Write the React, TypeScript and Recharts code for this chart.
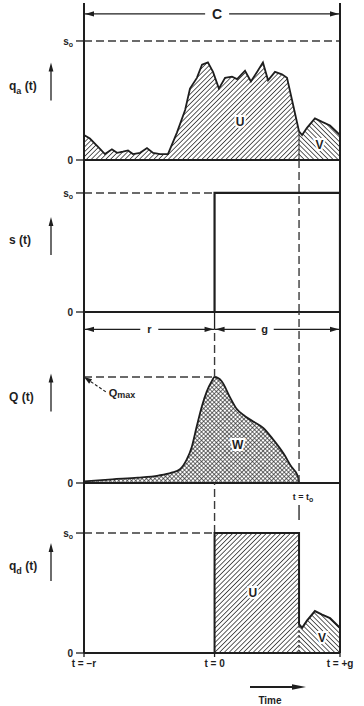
import React from "react";
import {
  Area,
  ComposedChart,
  Line,
  ReferenceDot,
  ReferenceLine,
  XAxis,
  YAxis,
} from "recharts";

// time in seconds, t = 0 at start of green; cycle C = r + g
const R = 51;
const G = 49;
const T_O = 33;
const S_O = 1; // saturation flow (normalised)
const Q_MAX = 10; // veh

// q_a(t) arrivals, fraction of s_o
const arrivalTimes = [
  -51, -48.7, -45.5, -42.8, -40.1, -38.1, -35.8, -33.8, -31.9, -29.1, -26.4, -24, -21.3,
  -18.2, -14.7, -11.5, -9.6, -6.9, -4.9, -2.6, -0.6, 1.7, 4.1, 6.8, 8.8, 11.9, 14.2, 16.6,
  18.9, 20.9, 23.6, 26.3, 28.3, 30.3, 33, 34.2, 36.1, 39.2, 42, 45.1, 49,
];
const arrivalRates = [
  0.21, 0.18, 0.11, 0.05, 0.09, 0.06, 0.07, 0.08, 0.05, 0.06, 0.1, 0.06, 0.05, 0.05, 0.23,
  0.42, 0.6, 0.69, 0.8, 0.82, 0.74, 0.6, 0.69, 0.7, 0.68, 0.75, 0.66, 0.74, 0.82, 0.67, 0.74,
  0.72, 0.69, 0.5, 0.24, 0.21, 0.27, 0.35, 0.32, 0.29, 0.21,
];

// s(t) signal service rate
const signalTimes = [-51, 0, 49];
const signalRates = [0, 1, 0];

// Q(t) queue, vehicles
const queueTimes = [
  -51, -40, -30, -22, -16.8, -13.5, -10.9, -8.9, -7, -5, -3.1, -1.1, 0, 2.8, 6, 8.6, 11.9,
  15.1, 19, 22.9, 26.9, 30.1, 32.5, 33,
];
const queueVeh = [
  0.15, 0.35, 0.5, 0.7, 0.97, 1.3, 2.2, 3.4, 5.3, 7.2, 8.6, 9.6, 10, 9.6, 8.1, 7, 6.3, 5.8,
  5.2, 4.1, 2.8, 1.5, 0.66, 0,
];

const INK = "#1e1e1e";
const DASH = "#3a3a3a";
const FONT = "'Liberation Sans', Arial, sans-serif";
const MARGIN_X = { left: 0, right: 24 };

const arrivals = arrivalTimes.map((t, i) => ({ t, v: arrivalRates[i] }));
const uArrivals = arrivals.filter((d) => d.t <= T_O);
const vArrivals = arrivals.filter((d) => d.t >= T_O);
const qaAtTo = vArrivals[0].v;
const signal = signalTimes.map((t, i) => ({ t, v: signalRates[i] * S_O }));
const queue = queueTimes.map((t, i) => ({ t, v: queueVeh[i] }));
const departures = [
  { t: -R, v: 0 },
  { t: 0, v: 0 },
  { t: 0, v: S_O },
  { t: T_O, v: S_O },
  ...vArrivals,
];
const uDepartures = [
  { t: 0, v: S_O },
  { t: T_O, v: S_O },
];

function Patterns({ id }: { id: string }) {
  return (
    <defs>
      <pattern id={`u-${id}`} width="3.4" height="3.4" patternUnits="userSpaceOnUse" patternTransform="rotate(45)">
        <line x1="0" y1="0" x2="0" y2="3.4" stroke="#262626" strokeWidth="1.5" />
      </pattern>
      <pattern id={`v-${id}`} width="3.4" height="3.4" patternUnits="userSpaceOnUse" patternTransform="rotate(-45)">
        <line x1="0" y1="0" x2="0" y2="3.4" stroke="#262626" strokeWidth="1.5" />
      </pattern>
      <pattern id={`w-${id}`} width="3" height="3" patternUnits="userSpaceOnUse" patternTransform="rotate(45)">
        <line x1="0" y1="0" x2="0" y2="3" stroke="#222" strokeWidth="1.3" />
        <line x1="0" y1="0" x2="3" y2="0" stroke="#222" strokeWidth="1.3" />
      </pattern>
    </defs>
  );
}

function arrowHead(x: number, y: number, dx: number, dy: number, len = 7, half = 2.6) {
  const px = -dy;
  const py = dx;
  const bx = x - dx * len;
  const by = y - dy * len;
  return `${x},${y} ${bx + px * half},${by + py * half} ${bx - px * half},${by - py * half}`;
}

// horizontal dimension line |<-- label -->|
function dimShape(text: string, at = 0.5, gap = 20, size = 12) {
  return (p: any) => {
    const { x1, y1, x2 } = p;
    const mx = x1 + (x2 - x1) * at;
    return (
      <g>
        <line x1={x1} y1={y1} x2={mx - gap / 2} y2={y1} stroke={INK} strokeWidth={1.3} />
        <line x1={mx + gap / 2} y1={y1} x2={x2} y2={y1} stroke={INK} strokeWidth={1.3} />
        <polygon points={arrowHead(x1 + 1, y1, -1, 0, 9, 2.6)} fill={INK} />
        <polygon points={arrowHead(x2 - 1, y1, 1, 0, 9, 2.6)} fill={INK} />
        <text x={mx} y={y1} dy="0.36em" textAnchor="middle" fontFamily={FONT} fontWeight="bold" fontSize={size} fill={INK}>
          {text}
        </text>
      </g>
    );
  };
}

const areaLabel = (text: string, size = 12) => (p: any) => (
  <text
    x={p.cx}
    y={p.cy}
    dy="0.36em"
    textAnchor="middle"
    fontFamily={FONT}
    fontWeight="bold"
    fontSize={size}
    fill={INK}
    stroke="#fff"
    strokeWidth={4}
    paintOrder="stroke"
  >
    {text}
  </text>
);

function yTick(labels: Record<number, [string, string?]>) {
  return (p: any) => {
    const [m, s] = labels[p.payload.value] ?? [String(p.payload.value)];
    return (
      <text x={p.x} y={p.y} dy="0.36em" textAnchor="end" fontFamily={FONT} fontWeight="bold" fontSize={10} fill={INK}>
        {m}
        {s && (
          <tspan fontSize={7} dy={2}>
            {s}
          </tspan>
        )}
      </text>
    );
  };
}

const xTickText: Record<number, string> = { [-R]: "t = −r", 0: "t = 0", [G]: "t = +g" };

function XTick(p: any) {
  return (
    <text x={p.x} y={p.y} dy="0.71em" textAnchor="middle" fontFamily={FONT} fontWeight="bold" fontSize={10} fill={INK}>
      {xTickText[p.payload.value]}
    </text>
  );
}

function sideLabel(main: string, sub: string, dy = 0) {
  return (p: any) => {
    const vb = p.viewBox;
    const cy = vb.y + vb.height / 2 + dy;
    return (
      <g>
        <text x={9} y={cy + 4} dy="0.36em" fontFamily={FONT} fontWeight="bold" fontSize={12} fill={INK}>
          {main}
          {sub && (
            <tspan fontSize={9} dy={4}>
              {sub}
            </tspan>
          )}
          <tspan dy={sub ? -4 : 0}>{"  (t)"}</tspan>
        </text>
        <line x1={51} y1={cy + 19} x2={51} y2={cy - 12} stroke={INK} strokeWidth={1.3} />
        <polygon points={arrowHead(51, cy - 19, 0, -1, 9, 2.4)} fill={INK} />
      </g>
    );
  };
}

function TimeLabel(p: any) {
  const vb = p.viewBox;
  const x0 = vb.x + 166;
  const y = vb.y + 34;
  return (
    <g>
      <line x1={x0} y1={y} x2={x0 + 46} y2={y} stroke={INK} strokeWidth={2} />
      <polygon points={arrowHead(x0 + 56, y, 1, 0, 14, 2.8)} fill={INK} />
      <text x={vb.x + 186} y={vb.y + 47} dy="0.36em" textAnchor="middle" fontFamily={FONT} fontWeight="bold" fontSize={10} fill={INK}>
        Time
      </text>
    </g>
  );
}

function qmaxShape(p: any) {
  const { x1, y1, x2, y2 } = p;
  const len = Math.hypot(x2 - x1, y2 - y1);
  const ux = (x2 - x1) / len;
  const uy = (y2 - y1) / len;
  return (
    <g>
      <line x1={x1} y1={y1} x2={x2 - ux * 6} y2={y2 - uy * 6} stroke={INK} strokeWidth={1.1} strokeDasharray="3 2" />
      <polygon points={arrowHead(x2, y2, ux, uy, 8, 2.6)} fill={INK} />
      <text x={x1 + 3} y={y1 + 1} dy="0.36em" fontFamily={FONT} fontWeight="bold" fontSize={11} fill={INK}>
        Q
        <tspan fontSize={9} dy={1}>
          max
        </tspan>
      </text>
    </g>
  );
}

function toLabel(p: any) {
  return (
    <text x={p.cx + 4} y={p.cy} dy="0.36em" textAnchor="middle" fontFamily={FONT} fontWeight="bold" fontSize={9} fill={INK}>
      t = t
      <tspan fontSize={7} dy={2}>
        o
      </tspan>
    </text>
  );
}

const frame = { stroke: INK, strokeWidth: 2 };
const dashed = { stroke: DASH, strokeWidth: 1.4, strokeDasharray: "8 4" };
const soLabels: Record<number, [string, string?]> = { 0: ["0"], [S_O]: ["s", "o"] };
const yAxisCommon = {
  type: "number" as const,
  width: 84,
  allowDataOverflow: true,
  interval: 0 as const,
  axisLine: frame,
  tickLine: { stroke: INK, strokeWidth: 1.3 },
  tickSize: 8,
  tickMargin: 3,
  tick: yTick(soLabels),
};

function Panel({ top, height, children }: { top: number; height: number; children: React.ReactNode }) {
  return <div style={{ position: "absolute", left: 0, top, width: 364, height }}>{children}</div>;
}

export default function App() {
  return (
    <div style={{ position: "absolute", left: 0, top: 0, width: 364, height: 706, background: "#fff" }}>
      {/* q_a(t) arrivals */}
      <Panel top={0} height={166}>
        <ComposedChart width={364} height={166} margin={{ top: 3, bottom: 6, ...MARGIN_X }}>
          <Patterns id="p1" />
          <XAxis type="number" dataKey="t" domain={[-R, G]} allowDataOverflow hide />
          <YAxis {...yAxisCommon} domain={[0, 1.319]} ticks={[0, S_O]} label={{ content: sideLabel("q", "a", 0) }} />
          <ReferenceLine segment={[{ x: -R, y: S_O }, { x: G, y: S_O }]} {...dashed} />
          <Area data={uArrivals} dataKey="v" type="linear" stroke={INK} strokeWidth={1.8} fill="url(#u-p1)" fillOpacity={1} isAnimationActive={false} />
          <Area data={vArrivals} dataKey="v" type="linear" stroke={INK} strokeWidth={1.8} fill="url(#v-p1)" fillOpacity={1} isAnimationActive={false} />
          <ReferenceLine segment={[{ x: T_O, y: 0 }, { x: T_O, y: qaAtTo }]} stroke={INK} strokeWidth={1} />
          <ReferenceLine y={0} {...frame} />
          <ReferenceLine x={G} {...frame} />
          <ReferenceLine segment={[{ x: -R, y: 1.227 }, { x: G, y: 1.227 }]} shape={dimShape("C", 0.52, 24, 14)} />
          <ReferenceDot x={10} y={0.32} r={0} shape={areaLabel("U")} />
          <ReferenceDot x={41} y={0.13} r={0} shape={areaLabel("V")} />
        </ComposedChart>
      </Panel>

      {/* s(t) signal */}
      <Panel top={154} height={164}>
        <ComposedChart width={364} height={164} margin={{ top: 6, bottom: 6, ...MARGIN_X }}>
          <XAxis type="number" dataKey="t" domain={[-R, G]} allowDataOverflow hide />
          <YAxis {...yAxisCommon} domain={[0, 1.277]} ticks={[0, S_O]} label={{ content: sideLabel("s", "", 0) }} />
          <ReferenceLine segment={[{ x: -R, y: S_O }, { x: 0, y: S_O }]} {...dashed} />
          <ReferenceLine x={T_O} {...dashed} />
          <Line data={signal} dataKey="v" type="stepAfter" stroke={INK} strokeWidth={2.2} dot={false} isAnimationActive={false} />
          <ReferenceLine y={0} {...frame} />
          <ReferenceLine x={G} {...frame} />
        </ComposedChart>
      </Panel>

      {/* Q(t) queue */}
      <Panel top={306} height={183}>
        <ComposedChart width={364} height={183} margin={{ top: 6, bottom: 6, ...MARGIN_X }}>
          <Patterns id="p3" />
          <XAxis type="number" dataKey="t" domain={[-R, G]} allowDataOverflow hide />
          <YAxis {...yAxisCommon} domain={[0, 16.13]} ticks={[0]} label={{ content: sideLabel("Q", "", -5) }} />
          <ReferenceLine segment={[{ x: -R, y: Q_MAX }, { x: 0, y: Q_MAX }]} {...dashed} />
          <ReferenceLine segment={[{ x: 0, y: Q_MAX }, { x: 0, y: 14.5 }]} {...dashed} />
          <ReferenceLine segment={[{ x: 0, y: 14.5 }, { x: 0, y: 16.13 }]} stroke={INK} strokeWidth={1.3} />
          <ReferenceLine segment={[{ x: T_O, y: 0 }, { x: T_O, y: 16.13 }]} {...dashed} />
          <Area data={queue} dataKey="v" type="monotone" stroke={INK} strokeWidth={1.8} fill="url(#w-p3)" fillOpacity={1} isAnimationActive={false} />
          <ReferenceLine y={0} {...frame} />
          <ReferenceLine x={G} {...frame} />
          <ReferenceLine segment={[{ x: -R, y: 14.5 }, { x: 0, y: 14.5 }]} shape={dimShape("r", 0.5, 18, 11)} />
          <ReferenceLine segment={[{ x: 0, y: 14.5 }, { x: G, y: 14.5 }]} shape={dimShape("g", 0.4, 18, 11)} />
          <ReferenceLine segment={[{ x: -42.5, y: 8.6 }, { x: -R, y: Q_MAX }]} shape={qmaxShape} />
          <ReferenceDot x={9} y={3.6} r={0} shape={areaLabel("W")} />
        </ComposedChart>
      </Panel>

      {/* q_d(t) departures */}
      <Panel top={477} height={229}>
        <ComposedChart width={364} height={229} margin={{ top: 6, bottom: 0, ...MARGIN_X }}>
          <Patterns id="p4" />
          <XAxis
            type="number"
            dataKey="t"
            domain={[-R, G]}
            ticks={[-R, 0, G]}
            interval={0}
            allowDataOverflow
            height={53}
            axisLine={frame}
            tickLine={{ stroke: INK, strokeWidth: 1.3 }}
            tickSize={4}
            tickMargin={3}
            tick={<XTick />}
            label={{ content: TimeLabel }}
          />
          <YAxis {...yAxisCommon} domain={[0, 1.417]} ticks={[0, S_O]} label={{ content: sideLabel("q", "d", -6) }} />
          <ReferenceLine segment={[{ x: -R, y: S_O }, { x: 0, y: S_O }]} {...dashed} />
          <ReferenceLine segment={[{ x: 0, y: S_O }, { x: 0, y: 1.417 }]} {...dashed} />
          <ReferenceLine segment={[{ x: T_O, y: 1.108 }, { x: T_O, y: 1.233 }]} stroke={INK} strokeWidth={1.3} />
          <ReferenceDot x={T_O} y={1.3} r={0} shape={toLabel} />
          <Area data={uDepartures} dataKey="v" type="linear" stroke="none" fill="url(#u-p4)" fillOpacity={1} isAnimationActive={false} />
          <Area data={vArrivals} dataKey="v" type="linear" stroke="none" fill="url(#v-p4)" fillOpacity={1} isAnimationActive={false} />
          <ReferenceLine segment={[{ x: T_O, y: 0 }, { x: T_O, y: qaAtTo }]} stroke={INK} strokeWidth={1} strokeDasharray="3 2" />
          <Line data={departures} dataKey="v" type="linear" stroke={INK} strokeWidth={2} dot={false} isAnimationActive={false} />
          <ReferenceLine x={G} {...frame} />
          <ReferenceDot x={15} y={0.5} r={0} shape={areaLabel("U")} />
          <ReferenceDot x={42} y={0.13} r={0} shape={areaLabel("V")} />
        </ComposedChart>
      </Panel>
    </div>
  );
}
